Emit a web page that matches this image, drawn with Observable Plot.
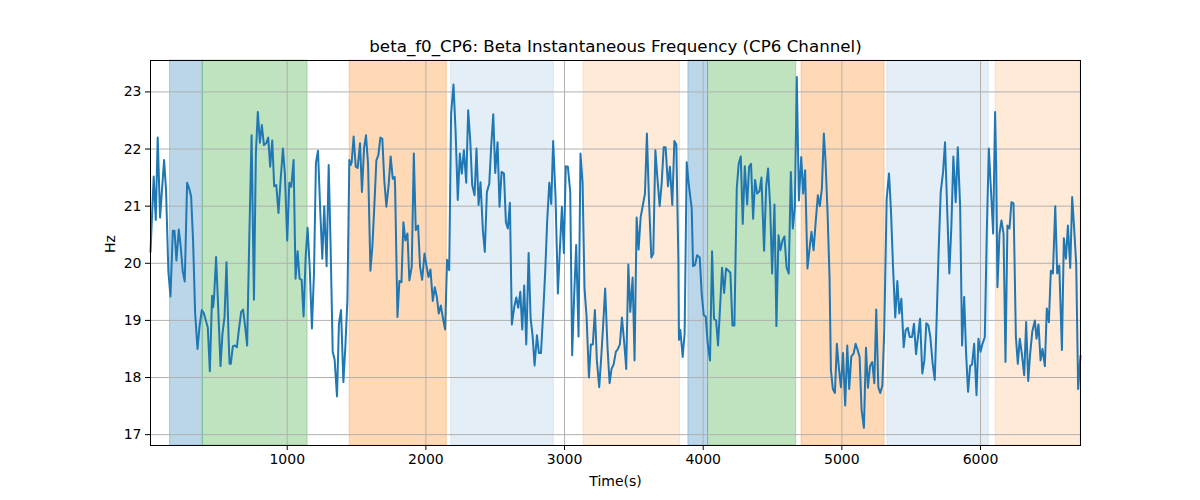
<!DOCTYPE html>
<html>
<head>
<meta charset="utf-8">
<script src="https://cdn.jsdelivr.net/npm/d3@7"></script>
<script src="https://cdn.jsdelivr.net/npm/@observablehq/plot@0.6"></script>
<style>
  html, body { margin: 0; padding: 0; background: white; }
</style>
</head>
<body>
<div id="chart"></div>
<script>
const titleText = "beta_f0_CP6: Beta Instantaneous Frequency (CP6 Channel)";
const xLabelText = "Time(s)";
const yLabelText = "Hz";
const xTicks = [1000, 2000, 3000, 4000, 5000, 6000];
const yTicks = [17, 18, 19, 20, 21, 22, 23];

const times = [
14,37,52,66,83,112,126,143,158,175,187,201,218,232,247,261,278,293,307,321,336,353,367,384,398,413,427,442,458,466,473,487,502,519,533,548,562,577,584,593,608,622,637,651,668,682,697,711,726,743,760,774,788,803,817,832,848,863,877,892,906,921,937,952,969,
983,1000,1015,1029,1046,1060,1075,1089,1104,1118,1133,1147,1162,1178,1193,1207,1222,1239,1253,1267,1284,1299,1313,1328,1342,1359,1373,1388,1405,1419,1434,1448,1458,1465,1479,1494,1508,1525,1539,1554,1568,1583,1600,1614,1629,1643,1657,1672,1686,1700,1715,1732,1746,1761,1775,1778,1795,1809,1824,1838,1852,1867,1881,1898,1913,1927,
1944,1958,1973,1990,2004,2019,2033,2050,2064,2079,2093,2108,2122,2139,2153,2168,2182,2199,2214,2230,2245,2259,2274,2291,2305,2320,2334,2351,2365,2380,2394,2411,2425,2440,2457,2471,2486,2500,2517,2531,2546,2563,2577,2591,2606,2620,2637,2652,2666,2681,2695,2709,2724,2741,2755,2770,2784,2801,2815,2830,2847,2861,2875,2890,2904,
2918,2935,2952,2966,2981,2995,3009,3024,3041,3055,3070,3084,3101,3115,3130,3144,3159,3176,3190,3204,3219,3233,3250,3265,3279,3293,3310,3325,3339,3354,3370,3385,3399,3414,3431,3445,3460,3474,3491,3505,3520,3534,3549,3565,3580,3594,3609,3626,3640,3655,3669,3686,3700,3715,3729,3746,3760,3777,3792,3806,3821,3825,3835,3852,3866,3881,
3895,3917,3927,3941,3956,3975,3989,4004,4018,4033,4049,4064,4078,4093,4107,4122,4136,4151,4165,4182,4196,4211,4225,4242,4256,4271,4285,4300,4317,4331,4345,4360,4374,4389,4406,4420,4439,4454,4468,4483,4497,4514,4528,4543,4557,4572,4586,4601,4617,4632,4646,4661,4675,4690,4707,4721,4735,4752,4767,4781,4796,4812,4827,4841,4856,4870,
4882,4897,4911,4921,4935,4950,4964,4979,4993,5008,5024,5039,5053,5068,5085,5099,5114,5128,5142,5159,5174,5188,5203,5219,5234,5248,5263,5277,5292,5306,5323,5340,5354,5369,5385,5400,5414,5429,5446,5460,5475,5489,5506,5520,5535,5549,5564,5580,5595,5609,5624,5638,5655,5670,5684,5698,5713,5730,5744,5759,5775,5790,5804,5821,5836,
5853,5867,5882,5896,5910,5925,5939,5954,5971,5985,6000,6014,6031,6045,6060,6074,6091,6105,6113,6122,6137,6151,6166,6180,6194,6209,6223,6238,6255,6269,6283,6298,6315,6329,6344,6358,6373,6392,6404,6418,6433,6447,6464,6478,6493,6507,6522,6539,6553,6568,6587,6601,6616,6630,6647,6661,6676,6690,6704,6721
];

const freqs = [
20.20,21.52,20.76,22.20,20.80,21.81,21.28,19.85,19.42,20.57,20.57,20.05,20.59,20.29,19.85,19.68,21.41,21.31,21.17,20.40,19.12,18.50,18.88,19.18,19.13,19.00,18.88,18.11,19.43,19.23,19.43,20.11,19.23,18.20,18.77,19.06,20.02,18.71,18.24,18.24,18.55,18.56,18.53,18.83,19.15,19.19,18.88,18.56,20.40,22.24,19.36,21.92,22.65,22.11,22.42,22.07,22.10,22.20,21.69,22.15,21.35,21.37,20.88,21.45,22.01,
21.57,20.40,21.41,21.34,21.81,19.73,20.21,19.73,19.71,19.07,20.11,20.62,19.93,18.86,19.82,21.76,21.97,20.87,20.08,21.00,19.95,21.72,20.29,18.45,18.31,17.67,18.94,19.18,17.92,18.53,19.35,21.81,21.72,21.77,22.22,21.69,21.67,22.10,21.25,22.01,22.24,21.74,19.87,20.29,21.04,21.80,21.89,22.20,22.18,21.45,20.99,21.39,21.87,21.48,21.51,21.34,19.06,19.69,19.67,20.72,20.40,20.52,19.70,19.94,21.92,20.58,
20.66,19.94,19.71,20.17,19.96,19.76,19.89,19.34,19.58,19.41,19.12,19.26,19.05,18.84,20.06,19.88,22.62,23.13,22.33,21.11,21.92,21.57,21.98,21.41,22.68,22.15,21.37,21.19,22.01,21.02,21.42,20.58,20.20,21.25,21.39,22.05,22.61,21.58,22.12,20.99,21.60,21.57,20.72,20.61,21.06,18.93,19.23,19.40,19.22,19.50,18.84,19.61,18.58,20.18,19.05,18.72,18.21,18.74,18.43,18.43,19.18,19.88,20.75,21.41,21.04,
22.14,21.16,19.47,20.23,20.99,20.18,21.70,21.69,21.25,18.39,19.47,20.32,18.72,21.92,21.41,19.56,19.06,18.00,18.58,18.58,19.18,18.30,17.83,18.37,18.94,19.56,18.52,17.90,18.15,18.23,18.45,18.50,18.58,19.05,18.59,18.15,19.98,19.15,19.75,18.30,20.80,20.24,20.81,21.02,21.22,22.27,21.10,20.10,20.17,21.98,21.51,21.00,21.38,22.03,22.03,21.35,21.69,21.02,22.14,22.08,20.05,18.66,18.83,18.36,18.77,21.77,
21.40,20.96,19.95,19.97,20.14,20.10,19.47,19.09,19.07,18.59,18.30,20.21,19.03,19.00,18.56,19.25,19.92,19.48,19.91,19.87,19.83,18.91,18.91,21.31,21.74,21.87,20.69,21.70,21.03,21.69,21.74,20.78,21.46,21.22,21.26,21.50,20.22,21.34,21.66,20.99,19.82,21.03,18.90,20.49,20.23,20.40,20.47,19.93,19.82,21.60,20.61,20.99,23.26,21.10,21.86,21.22,21.63,19.91,20.26,20.55,20.23,20.75,21.19,21.00,21.31,22.27,
21.80,20.87,19.76,18.13,17.80,17.73,18.59,18.15,17.83,18.43,17.51,18.56,17.80,18.37,18.42,18.59,18.48,18.36,17.44,17.12,18.52,17.82,18.20,18.27,17.90,19.19,17.83,17.73,17.86,18.84,21.13,21.57,20.93,19.94,19.05,19.69,19.12,19.38,18.53,18.83,18.87,18.71,18.71,18.94,18.41,18.71,19.03,18.07,18.30,18.95,18.91,18.71,18.24,17.96,19.06,20.23,21.25,21.60,22.12,20.99,19.82,20.66,21.87,21.07,22.03,
20.99,18.56,19.41,18.42,17.75,18.20,18.23,18.59,17.69,18.68,18.45,18.59,18.71,20.52,22.01,21.34,20.52,22.65,21.69,19.58,20.52,20.75,20.52,18.27,20.66,20.61,21.07,21.05,18.71,18.24,18.68,18.42,18.04,18.97,17.94,18.42,18.80,19.00,18.68,18.93,18.30,18.50,18.20,19.21,18.97,19.87,19.82,21.00,19.82,19.96,18.48,20.44,20.08,20.66,19.92,21.16,20.58,19.99,17.80,18.38
];

// shaded segments: start, end (seconds) and segment kind
const spanStart = [155, 391, 1450, 2182, 3137, 3893, 4035, 4709, 5328, 6110];
const spanEnd   = [391, 1147, 2151, 2923, 3833, 4035, 4671, 5308, 6059, 6721];
const spanKind  = ["blue", "green", "orange", "lightblue", "lightorange", "blue", "green", "orange", "lightblue", "lightorange"];

const kindColor = {blue: "#1f77b4", green: "#2ca02c", orange: "#ff7f0e", lightblue: "#1f77b4", lightorange: "#ff7f0e"};
const kindAlpha = {blue: 0.3, green: 0.3, orange: 0.3, lightblue: 0.12, lightorange: 0.16};

const series = times.map((t, i) => ({t, v: freqs[i]}));
const spans = spanStart.map((s, i) => ({start: s, end: spanEnd[i], kind: spanKind[i]}));

const font = "DejaVu Sans";

const chart = Plot.plot({
  width: 1200,
  height: 500,
  marginLeft: 150,
  marginRight: 120,
  marginTop: 60,
  marginBottom: 55,
  style: {fontFamily: font, background: "white", color: "black"},
  x: {domain: [14, 6721]},
  y: {domain: [16.81, 23.55]},
  marks: [
    Plot.rect(spans, {
      x1: "start", x2: "end",
      fill: d => kindColor[d.kind],
      fillOpacity: d => kindAlpha[d.kind],
      stroke: d => kindColor[d.kind],
      strokeOpacity: d => kindAlpha[d.kind],
      strokeWidth: 1
    }),
    Plot.gridX(xTicks, {stroke: "#b0b0b0", strokeOpacity: 1, strokeWidth: 1}),
    Plot.gridY(yTicks, {stroke: "#b0b0b0", strokeOpacity: 1, strokeWidth: 1}),
    Plot.line(series, {x: "t", y: "v", stroke: "#1f77b4", strokeWidth: 2}),
    Plot.frame({stroke: "black", strokeWidth: 1}),
    Plot.axisX(xTicks, {tickSize: 5, tickPadding: 4, fontSize: 14, label: null, tickFormat: d => String(d)}),
    Plot.axisY(yTicks, {tickSize: 5, tickPadding: 4, fontSize: 14, label: null, tickFormat: d => String(d)}),
    Plot.text([titleText], {frameAnchor: "top", dy: -14, fontSize: 16.7, lineAnchor: "middle", fill: "black"}),
    Plot.text([xLabelText], {frameAnchor: "bottom", dy: 36, fontSize: 14, lineAnchor: "middle", fill: "black"}),
    Plot.text([yLabelText], {frameAnchor: "left", dx: -40, rotate: -90, fontSize: 14, lineAnchor: "middle", fill: "black"})
  ]
});

document.getElementById("chart").appendChild(chart);
</script>
</body>
</html>
